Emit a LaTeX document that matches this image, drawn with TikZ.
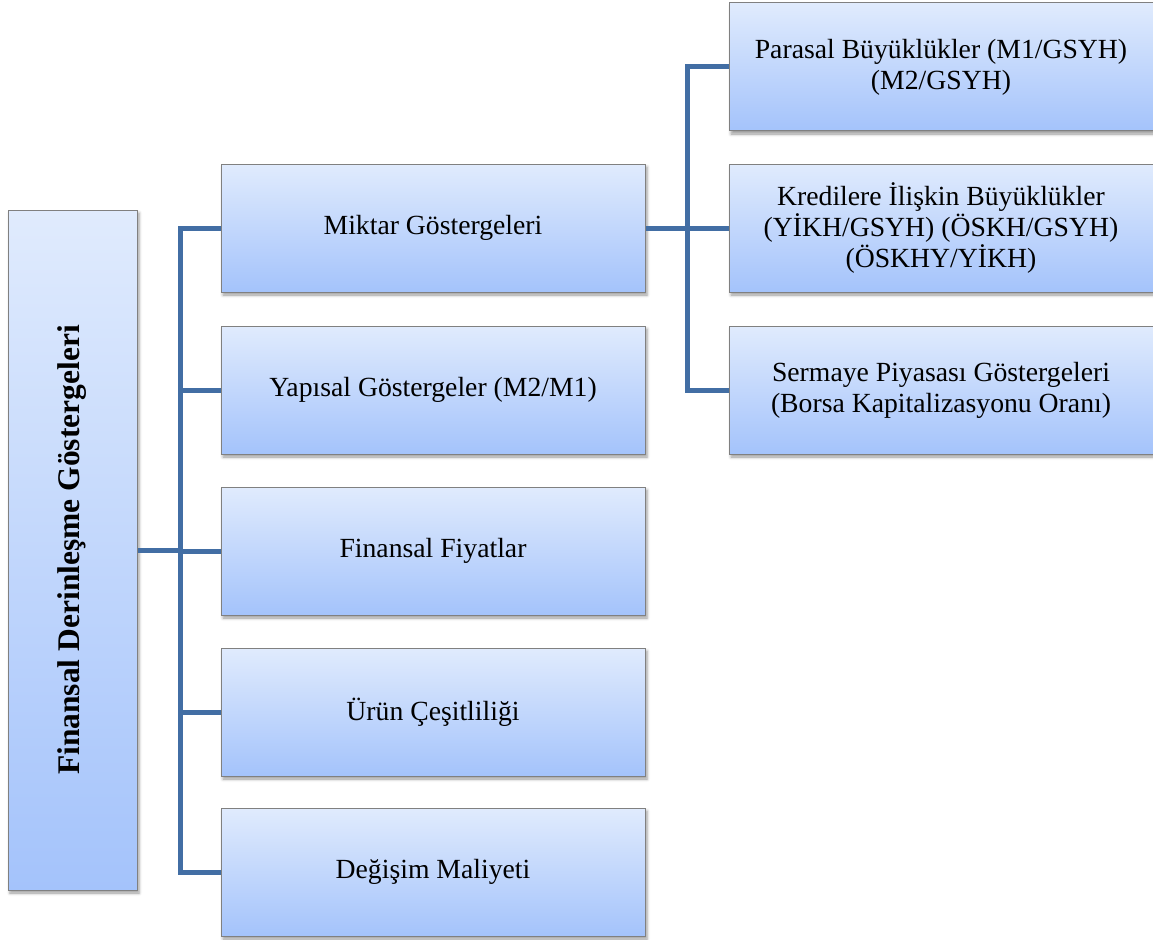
\documentclass[tikz,border=0pt]{standalone}
\usepackage{fontspec}
\setmainfont{Liberation Serif}
\usetikzlibrary{shadows.blur}
\definecolor{boxtop}{RGB}{224,235,253}
\definecolor{boxbot}{RGB}{164,195,251}
\definecolor{boxedge}{RGB}{128,128,128}
\definecolor{linkblue}{RGB}{66,110,164}
\tikzset{
  box/.style={draw=boxedge, line width=1pt, top color=boxtop, bottom color=boxbot,
    minimum width=424pt, minimum height=128pt, inner sep=0pt, align=center,
    font=\fontsize{27.7}{31}\selectfont,
    blur shadow={shadow xshift=2pt, shadow yshift=-3pt, shadow blur radius=3pt, shadow opacity=40}},
  rootbox/.style={box, minimum width=129pt, minimum height=680pt},
  link/.style={draw=linkblue, line width=5pt}
}
\begin{document}
\begin{tikzpicture}[x=1pt, y=-1pt]
\useasboundingbox (0,0) rectangle (1153,939);
% left column
\node[rootbox] (root) at (72.5,550) {};
\node[rotate=90, font=\fontsize{31.5}{36}\selectfont\bfseries] (rootlabel) at (root.center) {Finansal Derinleşme Göstergeleri};
% middle column
\node[box] (m1) at (433,228) {Miktar Göstergeleri};
\node[box] (m2) at (433,390) {Yapısal Göstergeler (M2/M1)};
\node[box] (m3) at (433,551) {Finansal Fiyatlar};
\node[box] (m4) at (433,712) {Ürün Çeşitliliği};
\node[box] (m5) at (433,872) {Değişim Maliyeti};
% right column
\node[box] (r1) at (941,67) {Parasal Büyüklükler (M1/GSYH)\\(M2/GSYH)};
\node[box] (r2) at (941,228) {Kredilere İlişkin Büyüklükler\\(YİKH/GSYH) (ÖSKH/GSYH)\\(ÖSKHY/YİKH)};
\node[box] (r3) at (941,390) {Sermaye Piyasası Göstergeleri\\(Borsa Kapitalizasyonu Oranı)};
% bus lines
\coordinate (busL) at (180,0);
\coordinate (busR) at (687,0);
\draw[link] (root.east) -- (root.east -| busL);
\draw[link] (m1.west) -| (m5.west -| busL) -- (m5.west);
\draw[link] (m2.west -| busL) -- (m2.west);
\draw[link] (m3.west -| busL) -- (m3.west);
\draw[link] (m4.west -| busL) -- (m4.west);
\draw[link] (m1.east) -- (m1.east -| busR);
\draw[link] (r1.west) -| (r3.west -| busR) -- (r3.west);
\draw[link] (r2.west -| busR) -- (r2.west);
\end{tikzpicture}
\end{document}
